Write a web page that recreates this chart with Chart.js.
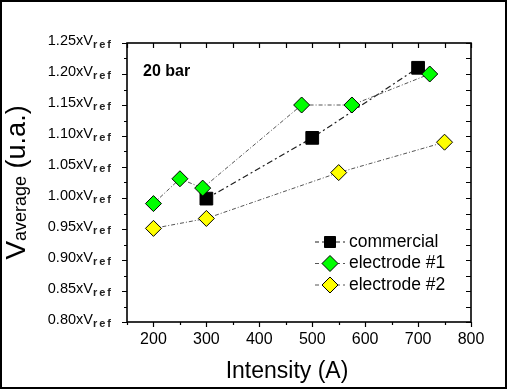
<!DOCTYPE html>
<html>
<head>
<meta charset="utf-8">
<script src="https://cdn.jsdelivr.net/npm/chart.js@4"></script>
<style>
  html, body { margin: 0; padding: 0; background: #fff; }
  canvas { display: block; }
</style>
</head>
<body>
<canvas id="chart" width="507" height="389"></canvas>
<script>
// Average voltage vs intensity at 20 bar - three electrode types

const xTickValues = [200, 300, 400, 500, 600, 700, 800];
const yTickValues = [0.80, 0.85, 0.90, 0.95, 1.00, 1.05, 1.10, 1.15, 1.20, 1.25];

const seriesNames = ['commercial', 'electrode #1', 'electrode #2'];

const commercialX = [300, 500, 700];
const commercialY = [0.999, 1.097, 1.21];

const electrode1X = [200, 250, 293, 480, 575, 722];
const electrode1Y = [0.991, 1.031, 1.016, 1.15, 1.15, 1.20];

const electrode2X = [200, 300, 550, 750];
const electrode2Y = [0.951, 0.967, 1.041, 1.09];

const FONT = "'Liberation Sans', Arial, sans-serif";

function toPoints(xs, ys) {
    return xs.map((x, i) => ({ x: x, y: ys[i] }));
}

// frame, ticks, y labels with subscripts, titles, legend
const decorations = {
    id: 'decorations',
    beforeDraw(chart) {
        const ctx = chart.ctx;
        ctx.save();
        ctx.fillStyle = '#fff';
        ctx.fillRect(0, 0, chart.width, chart.height);
        ctx.restore();
    },
    afterDraw(chart) {
        const ctx = chart.ctx;
        const a = chart.chartArea;
        const xs = chart.scales.x;
        const ys = chart.scales.y;
        ctx.save();

        // plot frame
        ctx.strokeStyle = '#000';
        ctx.lineWidth = 1.6;
        ctx.strokeRect(a.left, a.top, a.right - a.left, a.bottom - a.top);

        // tick marks
        ctx.lineWidth = 1.2;
        ctx.beginPath();
        const xMinor = xTickValues.map(v => v - 50);
        xTickValues.concat(xMinor).forEach(v => {
            const px = Math.round(xs.getPixelForValue(v)) + 0.5;
            const major = xTickValues.includes(v);
            ctx.moveTo(px, a.bottom);
            ctx.lineTo(px, a.bottom + (major ? 5 : 3));
            ctx.moveTo(px, a.top);
            ctx.lineTo(px, a.top + 5);
        });
        const yMinor = yTickValues.slice(1).map(v => v - 0.025);
        yTickValues.concat(yMinor).forEach(v => {
            const py = Math.round(ys.getPixelForValue(v)) + 0.5;
            const major = yTickValues.includes(v);
            ctx.moveTo(a.left, py);
            ctx.lineTo(a.left - (major ? 5 : 3), py);
            ctx.moveTo(a.right, py);
            ctx.lineTo(a.right - 5, py);
        });
        ctx.stroke();

        // y tick labels: 1.25xV_ref
        ctx.fillStyle = '#000';
        const labelRight = a.left - 14;
        yTickValues.forEach(v => {
            const py = ys.getPixelForValue(v);
            ctx.font = 'bold 11px ' + FONT;
            ctx.letterSpacing = '2px';
            const wSub = ctx.measureText('ref').width;
            ctx.textAlign = 'left';
            ctx.textBaseline = 'alphabetic';
            ctx.fillStyle = '#222';
            ctx.fillText('ref', labelRight - wSub, py + 5);
            ctx.letterSpacing = '0px';
            ctx.fillStyle = '#000';
            ctx.font = '14.5px ' + FONT;
            ctx.textAlign = 'right';
            ctx.fillText(v.toFixed(2) + 'xV', labelRight - wSub, py + 2);
        });

        // y title: V_average (u.a.)
        ctx.save();
        ctx.translate(25, (a.top + a.bottom) / 2);
        ctx.rotate(-Math.PI / 2);
        ctx.textAlign = 'left';
        ctx.textBaseline = 'alphabetic';
        const parts = [
            { t: 'V', f: '28px ' + FONT, dy: 0 },
            { t: 'average', f: '18px ' + FONT, dy: 1 },
            { t: ' (u.a.)', f: '27px ' + FONT, dy: 0 }
        ];
        let total = 0;
        parts.forEach(p => { ctx.font = p.f; p.w = ctx.measureText(p.t).width; total += p.w; });
        let cx = -total / 2;
        parts.forEach(p => {
            ctx.font = p.f;
            ctx.fillText(p.t, cx, p.dy);
            cx += p.w;
        });
        ctx.restore();

        // x title
        ctx.font = '23px ' + FONT;
        ctx.textAlign = 'center';
        ctx.textBaseline = 'alphabetic';
        ctx.fillText('Intensity (A)', (a.left + a.right) / 2 - 12, a.bottom + 56);

        // annotation
        ctx.font = 'bold 16px ' + FONT;
        ctx.textAlign = 'left';
        ctx.textBaseline = 'middle';
        ctx.fillText('20 bar', a.left + 16, a.top + 29);

        // legend
        const lx = a.left + 203;
        let ly = a.bottom - 80;
        chart.data.datasets.forEach(ds => {
            ctx.strokeStyle = ds.borderColor;
            ctx.lineWidth = ds.borderWidth;
            ctx.setLineDash([4, 3]);
            ctx.beginPath();
            ctx.moveTo(lx - 15, ly);
            ctx.lineTo(lx + 15, ly);
            ctx.stroke();
            ctx.setLineDash([]);
            ctx.fillStyle = ds.pointBackgroundColor;
            ctx.strokeStyle = '#000';
            ctx.lineWidth = 1;
            ctx.beginPath();
            if (ds.pointStyle === 'rect') {
                ctx.rect(lx - 5.5, ly - 5.5, 11, 11);
            } else {
                ctx.moveTo(lx - 8, ly);
                ctx.lineTo(lx, ly - 8);
                ctx.lineTo(lx + 8, ly);
                ctx.lineTo(lx, ly + 8);
                ctx.closePath();
            }
            ctx.fill();
            ctx.stroke();
            ctx.fillStyle = '#000';
            ctx.font = '17.5px ' + FONT;
            ctx.textBaseline = 'middle';
            ctx.fillText(ds.label, lx + 19, ly);
            ly += 21.5;
        });

        // outer border
        ctx.strokeStyle = '#000';
        ctx.lineWidth = 2;
        ctx.strokeRect(1, 1, chart.width - 2, chart.height - 2);
        ctx.restore();
    }
};

new Chart(document.getElementById('chart'), {
    type: 'line',
    data: {
        datasets: [
            {
                label: seriesNames[0],
                data: toPoints(commercialX, commercialY),
                borderColor: '#1e1e1e',
                borderWidth: 1.2,
                borderDash: [6, 3, 2, 3],
                pointStyle: 'rect',
                pointRadius: 9,
                pointBackgroundColor: '#000',
                pointBorderColor: '#000',
                pointBorderWidth: 1,
                order: 3
            },
            {
                label: seriesNames[1],
                data: toPoints(electrode1X, electrode1Y),
                borderColor: '#555',
                borderWidth: 1,
                borderDash: [4, 2, 1, 2],
                pointStyle: 'rectRot',
                pointRadius: 8,
                pointBackgroundColor: '#00ff00',
                pointBorderColor: '#000',
                pointBorderWidth: 1,
                order: 1
            },
            {
                label: seriesNames[2],
                data: toPoints(electrode2X, electrode2Y),
                borderColor: '#555',
                borderWidth: 1,
                borderDash: [4, 2, 1, 2],
                pointStyle: 'rectRot',
                pointRadius: 8,
                pointBackgroundColor: '#ffff00',
                pointBorderColor: '#000',
                pointBorderWidth: 1,
                order: 2
            }
        ]
    },
    options: {
        responsive: false,
        devicePixelRatio: 1,
        animation: false,
        events: [],
        clip: false,
        layout: { padding: { top: 43, right: 36, left: 0, bottom: 0 } },
        scales: {
            x: {
                type: 'linear',
                min: 150,
                max: 800,
                afterBuildTicks: (scale) => {
                    scale.ticks = xTickValues.map(v => ({ value: v }));
                },
                afterFit: (scale) => { scale.height = 67; },
                grid: { display: false, drawTicks: false },
                border: { display: false },
                ticks: {
                    color: '#000',
                    padding: 8,
                    maxRotation: 0,
                    font: { family: FONT, size: 16 }
                }
            },
            y: {
                type: 'linear',
                min: 0.80,
                max: 1.25,
                afterFit: (scale) => { scale.width = 127; },
                grid: { display: false, drawTicks: false },
                border: { display: false },
                ticks: { display: false }
            }
        },
        plugins: {
            legend: { display: false },
            tooltip: { enabled: false }
        }
    },
    plugins: [decorations]
});
</script>
</body>
</html>
